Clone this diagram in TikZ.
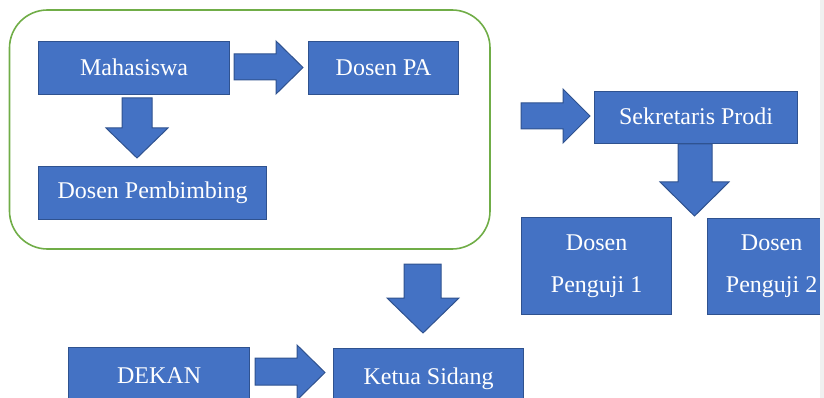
\documentclass[tikz,border=0pt]{standalone}
\usepackage{fontspec}
\setmainfont{Liberation Serif}
\newfontfamily\tnr{Liberation Serif}
\definecolor{boxfill}{HTML}{4472C4}
\definecolor{boxborder}{HTML}{2F528F}
\definecolor{grp}{HTML}{70AD47}
\definecolor{edge}{HTML}{F0F0F0}
\newcommand{\blockR}[7]{% x0 x1 xb a b c d
  \filldraw[blockarrow] (#1,#4) -- (#3,#4) -- (#3,#6) -- (#2,{(#6+#7)/2}) -- (#3,#7) -- (#3,#5) -- (#1,#5) -- cycle;}
\newcommand{\blockD}[7]{% y0 y1 yb a b c d
  \filldraw[blockarrow] (#4,#1) -- (#4,#3) -- (#6,#3) -- ({(#6+#7)/2},#2) -- (#7,#3) -- (#5,#3) -- (#5,#1) -- cycle;}
\begin{document}
\begin{tikzpicture}[x=1pt,y=-1pt,
  box/.style={draw=boxborder, fill=boxfill, line width=1.2pt, text=white,
    font=\tnr\fontsize{24}{27}\selectfont, inner sep=0pt, anchor=north west, align=center},
  twoline/.style={font=\tnr\fontsize{24}{40}\selectfont},
  blockarrow/.style={fill=boxfill, draw=boxborder, line width=1pt, line join=miter}]
\useasboundingbox (0,0) rectangle (824,398);
% group frame
\draw[grp, line width=1.6pt, rounded corners=38pt] (9.5,10) rectangle (490,249);
% boxes
\node[box, minimum width=191pt, minimum height=53pt] (mhs) at (38,41) {\raisebox{2pt}{Mahasiswa}};
\node[box, minimum width=150pt, minimum height=53pt] (pa) at (308,41) {\raisebox{2pt}{Dosen PA}};
\node[box, minimum width=228pt, minimum height=53pt] (pemb) at (38,166) {Dosen Pembimbing};
\node[box, minimum width=203pt, minimum height=52pt] (sek) at (594,91) {\raisebox{2pt}{Sekretaris Prodi}};
\node[box, twoline, minimum width=150pt, minimum height=97pt] (pg1) at (521,217) {\raisebox{2pt}{Dosen}\\Penguji 1};
\node[box, twoline, minimum width=128pt, minimum height=96pt] (pg2) at (707,218) {\raisebox{2pt}{Dosen}\\Penguji 2};
\node[box, minimum width=181pt, minimum height=60pt] (dekan) at (68,347) {\raisebox{5pt}{DEKAN}};
\node[box, minimum width=190pt, minimum height=60pt] (ketua) at (333,348) {\raisebox{4pt}{Ketua Sidang}};
% block arrows
\blockR{234}{303}{276}{54}{80}{41}{94}
\blockR{521}{590}{563}{103}{129}{89}{143}
\blockR{255}{325}{297}{358}{385}{345}{400}
\blockD{98}{158}{128}{122}{152}{106}{168}
\blockD{144}{216}{182}{678}{712}{660}{729}
\blockD{264}{333}{298}{404}{441}{387}{459}
% right edge strip
\fill[edge] (820,0) rectangle (824,398);
\end{tikzpicture}
\end{document}
